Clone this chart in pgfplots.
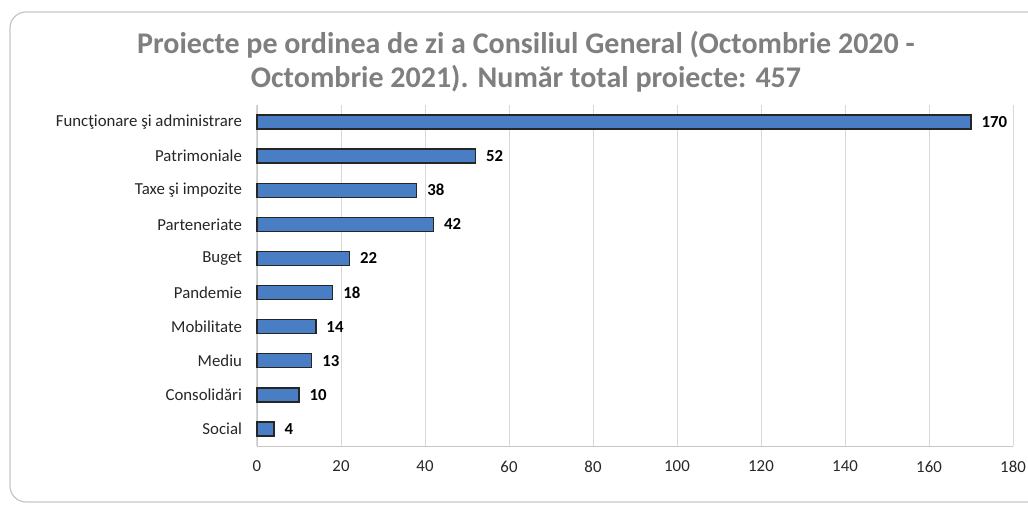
\documentclass[border=0pt]{standalone}
\usepackage{pgfplots}
\pgfplotsset{compat=1.18}
\usepackage{fontspec}
\setmainfont{Carlito}
\definecolor{barblue}{HTML}{4A7EC4}
\definecolor{titlegrey}{HTML}{7F7F7F}
\definecolor{gridgrey}{HTML}{D9D9D9}
\begin{document}
\begin{tikzpicture}
\path[use as bounding box] (0,0) rectangle (514pt,254pt);
\draw[gray!45, line width=0.6pt, rounded corners=8pt] (5pt,3pt) rectangle (530pt,248pt);
\node[font=\bfseries\fontsize{15}{17}\selectfont, text=titlegrey] at (263pt,231.5pt) {Proiecte pe ordinea de zi a Consiliul General (Octombrie 2020 -};
\node[font=\bfseries\fontsize{15}{17}\selectfont, text=titlegrey] at (263pt,214.5pt) {Octombrie 2021). Număr total proiecte: 457};
\begin{axis}[
  at={(128.5pt,31pt)}, anchor=south west,
  scale only axis, width=378pt, height=170.5pt,
  xbar, bar width=7pt,
  xmin=0, xmax=180, xtick={0,20,...,180},
  ymin=-0.5, ymax=9.5, y dir=reverse,
  ytick={0,...,9},
  yticklabels={Funcţionare şi administrare, Patrimoniale, Taxe şi impozite, Parteneriate, Buget, Pandemie, Mobilitate, Mediu, Consolidări, Social},
  /pgf/number format/assume math mode=true,
  tick label style={font=\fontsize{8.4}{10}\selectfont, text=black!85},
  yticklabel style={xshift=-4pt},
  xticklabel style={yshift=-4pt},
  major tick length=0pt,
  xmajorgrids, grid style={gridgrey, line width=0.5pt},
  axis line style={gridgrey!80!gray},
  axis x line*=bottom, axis y line*=left,
  nodes near coords,
  nodes near coords style={font=\bfseries\fontsize{8.4}{10}\selectfont, anchor=west, inner sep=0pt, xshift=5pt, text=black},
  clip=false,
]
\addplot[fill=barblue, draw=black!85, line width=0.7pt] coordinates {
(170,0) (52,1) (38,2) (42,3) (22,4) (18,5) (14,6) (13,7) (10,8) (4,9)
};
\end{axis}
\end{tikzpicture}
\end{document}
